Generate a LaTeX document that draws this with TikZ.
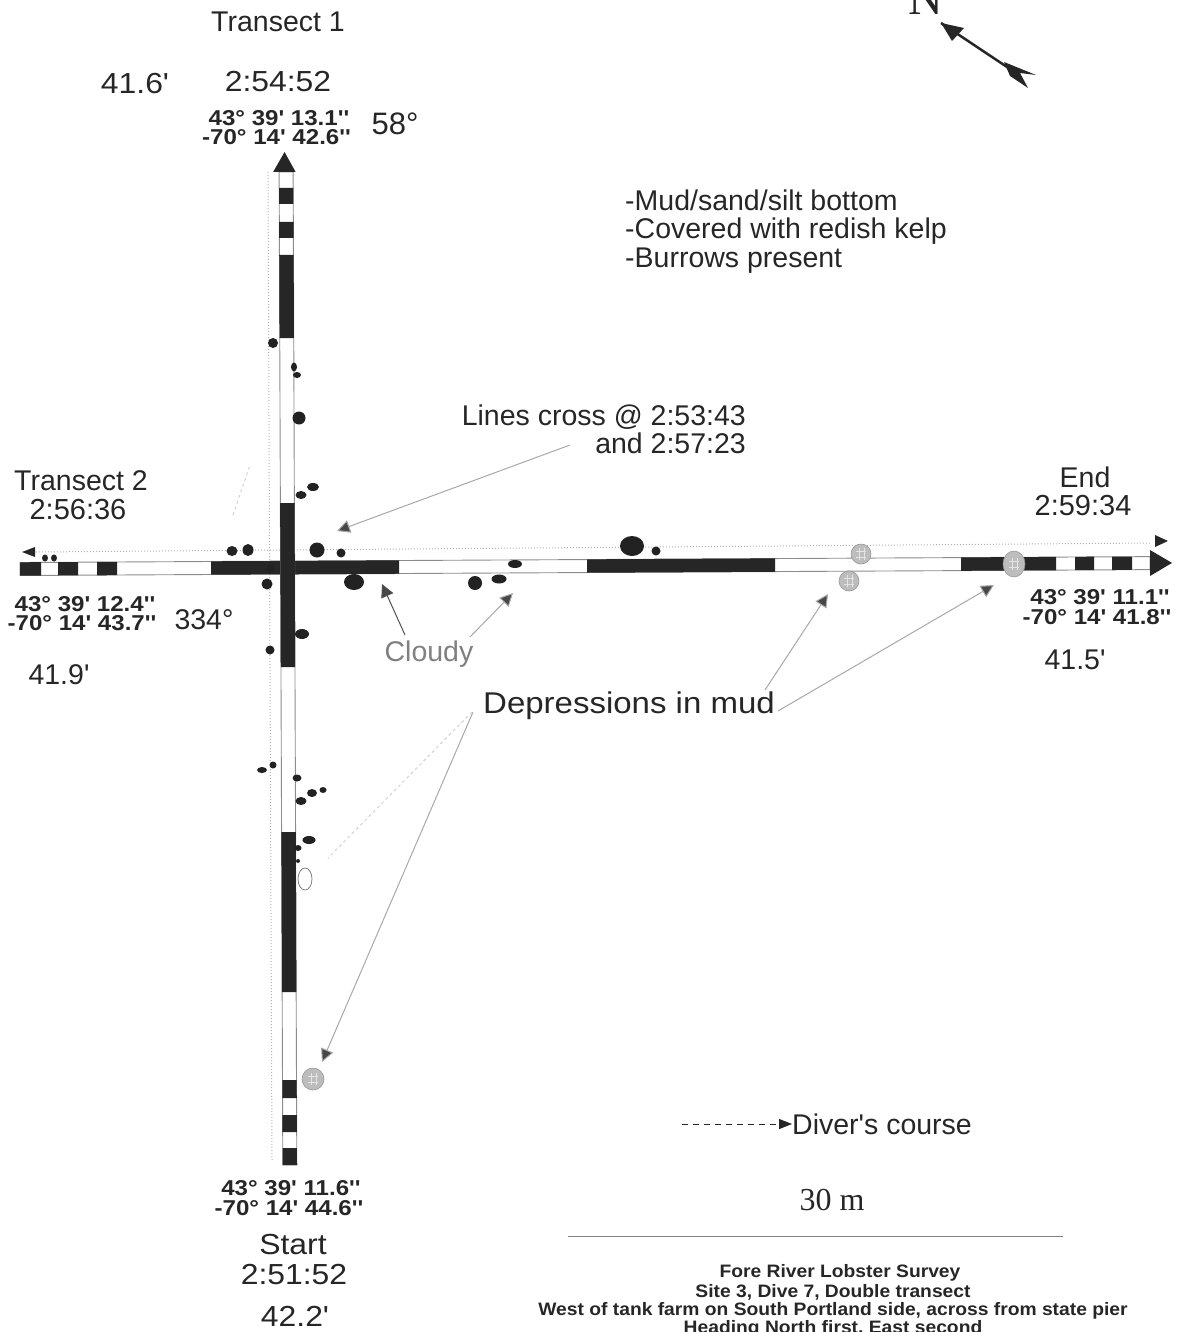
\documentclass[tikz,border=0pt]{standalone}
\usepackage{fontspec}
\newfontfamily\lsans{Liberation Sans}
\newfontfamily\msans[FakeStretch=1.1]{Liberation Sans}
\newfontfamily\wsans[FakeStretch=1.12]{Liberation Sans}
\newfontfamily\fsans[FakeStretch=1.07]{Liberation Sans}
\newfontfamily\serifN{Liberation Serif}
\usetikzlibrary{arrows.meta}
\definecolor{ink}{HTML}{262626}
\definecolor{barline}{HTML}{8C8C8C}
\definecolor{blobc}{HTML}{222222}
\definecolor{pale}{HTML}{BDBDBD}
\definecolor{leader}{HTML}{A8A8A8}
\tikzset{
 x=1pt,y=-1pt,
 lab/.style={text=ink,inner sep=0pt,font=\lsans\fontsize{28.5}{30}\selectfont},
 big/.style={text=ink,inner sep=0pt,font=\msans\fontsize{29}{30}\selectfont},
 coord/.style={text=ink,inner sep=0pt,font=\wsans\bfseries\fontsize{21.5}{22}\selectfont},
 foot/.style={text=ink,inner sep=0pt,font=\fsans\bfseries\fontsize{18}{19}\selectfont},
 blob/.style={fill=blobc},
 depr/.style={fill=pale,draw=pale!80!black,line width=.6pt},
 dark/.style={fill=ink},
 barbody/.style={fill=white,draw=barline,line width=.9pt},
 course/.style={draw=gray!60,line width=1pt,dotted},
 leadd/.style={draw=leader,line width=1pt,-{Triangle[length=13pt,width=13pt,fill=ink!85]}},
 leaddk/.style={draw=ink!80,line width=1pt,-{Triangle[length=13pt,width=13pt,fill=ink!85]}},
 faint/.style={draw=gray!35,line width=1pt,dashed},
}
\begin{document}
\begin{tikzpicture}
\useasboundingbox (0,0) rectangle (1178,1332);
% course lines
\draw[course] (268,172) -- (272,1160);
\draw[course] (36,552) -- (1150,543);
\draw[faint] (233,515) -- (250,465);
\fill[ink] (22,552) -- (35,547) -- (35,557) -- cycle;
\fill[ink] (1168,541) -- (1155,535) -- (1155,547) -- cycle;
% horizontal transect
\begin{scope}[yslant=0.0052]
\draw[barbody] (20,562.6) rectangle (1150,575.6);
\foreach \a/\b in {20/41,58/78,97/117,211/399,587/775,961/1056,1075/1094,1112/1132}
  \fill[dark] (\a,562.4) rectangle (\b,575.8);
\fill[ink] (1150,556) -- (1172,569) -- (1150,582) -- cycle;
\end{scope}
% vertical transect
\begin{scope}[xslant=-0.0037]
\draw[barbody] (278.5,172) rectangle (292.5,1165);
\foreach \a/\b in {188/204,222/238,255/338,503/667,832/992,1080/1098,1115/1132,1148/1165}
  \fill[dark] (278.3,\a) rectangle (292.7,\b);
\fill[ink] (272.5,172) -- (284,152) -- (295,172) -- cycle;
\end{scope}
% burrows
\foreach \x/\y/\a/\b in {273/343/5/5,294/367/3/4.5,297/375/4/3,299/418/6.5/6.5,301/495/5.5/4,313/487/6/4,
 232/551/5.5/5,248/550/5.5/6,317/550/7.5/7.5,341/553/4.5/4.5,267/584/5.5/5.5,354/582/10/8,475/583/7/7,499/579/7.5/4.5,515/564/7/4,
 632/546/12/10,656/551/4.5/4.5,302/634/7/5,270/650/4.5/4.5,45/558/3/3.5,54/558/3/3.5,270/569/4/5,
 262/770/5/3,273/765/3.5/3.5,297/778/4.5/3.5,312/793/5/4,323/790/3.5/3,301/801/5.5/4,309/840/6.5/4,298/848/3.5/3,298/861/2/2}
  \fill[blob] (\x,\y) ellipse [x radius=\a, y radius=\b];
% depressions
\foreach \x/\y/\a/\b in {861/554/10/10,849/581/10/10,1014/564/11/13,313/1079/11/11}{
  \draw[depr] (\x,\y) ellipse [x radius=\a, y radius=\b];
  \draw[white!60!pale,line width=.7pt] (\x-5,\y-3) -- (\x+5,\y-3) (\x-5,\y+3) -- (\x+5,\y+3) (\x-2,\y-6) -- (\x-2,\y+6) (\x+3,\y-6) -- (\x+3,\y+6);
}
\draw[draw=gray,fill=white,line width=.8pt] (305,879) ellipse [x radius=7, y radius=11];
% compass
\node[inner sep=0pt,text=ink,font=\serifN\fontsize{48}{48}\selectfont] (north) at (926,-1) {N};
\coordinate (ntip) at (941,23);
\coordinate (ntail) at (1013,71);
\draw[ink,line width=2.5pt] (ntip) -- (ntail);
\fill[ink] (ntip) -- (964,28) -- (952,41) -- cycle;
\fill[ink] (1004,62) -- (1036,75) -- (1020,73) -- (1028,88) -- (1010,76) -- cycle;
% texts
\node[lab] (t1) at (278,22) {Transect 1};
\node[big] (d1) at (135,84) {41.6'};
\node[big] (t1t) at (278,82) {2:54:52};
\node[coord] (c1a) at (279,118) {43° 39' 13.1''};
\node[coord] (c1b) at (276.5,137) {-70° 14' 42.6''};
\node[lab,font=\lsans\fontsize{31}{32}\selectfont] (h1) at (395,124) {58°};
\node[lab,anchor=base west] (n1) at (625,211) {-Mud/sand/silt bottom};
\node[lab,anchor=base west] (n2) at (625,239) {-Covered with redish kelp};
\node[lab,anchor=base west] (n3) at (625,267) {-Burrows present};
\node[lab,anchor=base east] (x1) at (746,425) {Lines cross @ 2:53:43};
\node[lab,anchor=base east] (x2) at (746,453) {and 2:57:23};
\node[lab] (t2) at (81,481) {Transect 2};
\node[lab,font=\lsans\fontsize{29}{30}\selectfont] (t2t) at (78,510) {2:56:36};
\node[lab] (endl) at (1085,477) {End};
\node[lab,font=\lsans\fontsize{29}{30}\selectfont] (endt) at (1083,506) {2:59:34};
\node[coord] (c2a) at (85,604) {43° 39' 12.4''};
\node[coord] (c2b) at (82,623) {-70° 14' 43.7''};
\node[lab] (h2) at (204,620) {334°};
\node[lab] (d2) at (59,675) {41.9'};
\node[coord] (c3a) at (1100,597) {43° 39' 11.1''};
\node[coord] (c3b) at (1097,617) {-70° 14' 41.8''};
\node[lab] (d3) at (1075,660) {41.5'};
\node[lab,text=gray] (cl) at (429,654) {Cloudy};
\node[big,font=\msans\fontsize{30}{30}\selectfont] (dm) at (629,706) {Depressions in mud};
\node[lab,anchor=west] (dc) at (792,1124) {Diver's course};
\node[inner sep=0pt,text=ink,font=\serifN\fontsize{32}{32}\selectfont] (sc) at (832,1200) {30 m};
\node[coord] (c4a) at (291,1188) {43° 39' 11.6''};
\node[coord] (c4b) at (289,1208) {-70° 14' 44.6''};
\node[big] (st) at (293,1245) {Start};
\node[big] (stt) at (294,1275) {2:51:52};
\node[big] (d4) at (295,1316) {42.2'};
\node[foot] (f1) at (840,1273) {Fore River Lobster Survey};
\node[foot] (f2) at (833,1292) {Site 3, Dive 7, Double transect};
\node[foot] (f3) at (833,1311) {West of tank farm on South Portland side, across from state pier};
\node[foot] (f4) at (833,1329) {Heading North first, East second};
% connectors
\coordinate (a1s) at (570,445); \coordinate (a1e) at (337,531);
\draw[leadd] (a1s) -- (a1e);
\coordinate (a2s) at (405,635); \coordinate (a2e) at (382,584);
\draw[leaddk] (a2s) -- (a2e);
\coordinate (a3s) at (470,637); \coordinate (a3e) at (513,593);
\draw[leadd] (a3s) -- (a3e);
\coordinate (a4s) at (765,690); \coordinate (a4e) at (828,594);
\draw[leadd] (a4s) -- (a4e);
\coordinate (a5s) at (778,711); \coordinate (a5e) at (994,585);
\draw[leadd] (a5s) -- (a5e);
\coordinate (a6s) at (473,712); \coordinate (a6e) at (322,1062);
\draw[leadd] (a6s) -- (a6e);
\coordinate (a7s) at (472,712); \coordinate (a7e) at (328,858);
\draw[faint] (a7s) -- (a7e);
% legend
\coordinate (lg) at (682,1124);
\draw[ink,line width=1pt,dash pattern=on 6pt off 5pt,-{Triangle[length=13pt,width=10pt]}] (lg) -- (dc.west);
\coordinate (sa) at (568,1236); \coordinate (sb) at (1063,1236);
\draw[gray,line width=1pt] (sa) -- (sb);
\end{tikzpicture}
\end{document}
